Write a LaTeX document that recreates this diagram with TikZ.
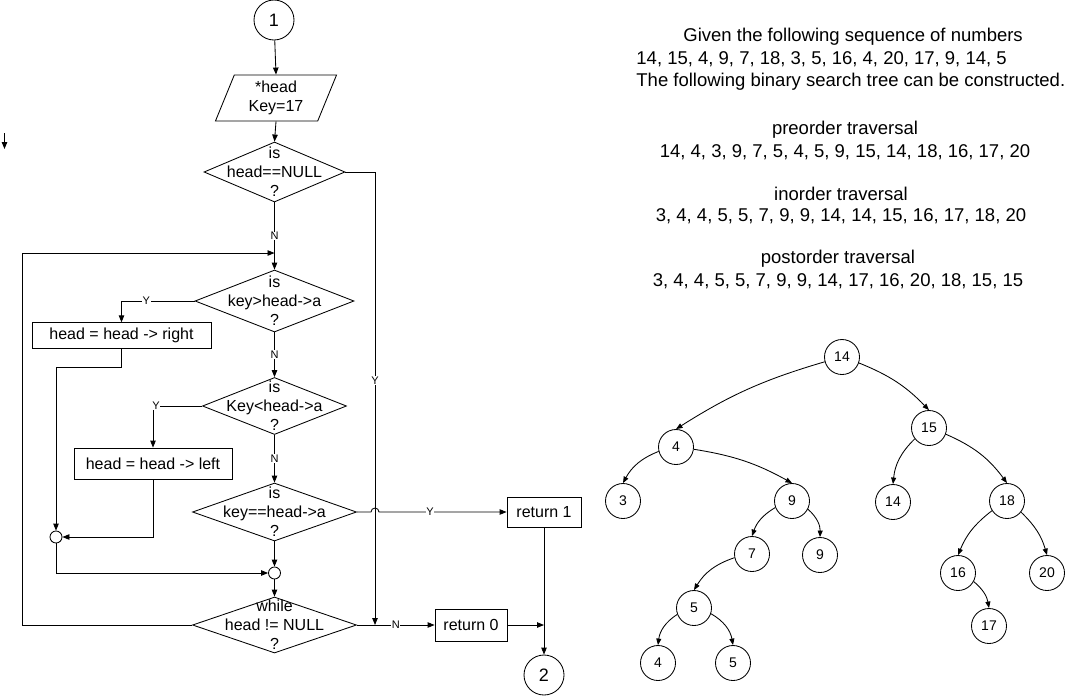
\documentclass[tikz,border=0pt]{standalone}
\usepackage{fontspec}
\setmainfont{Liberation Sans}
\usetikzlibrary{arrows.meta,shapes.geometric}

\begin{document}
\begin{tikzpicture}[x=1pt,y=1pt,
  line width=0.85pt,
  arr/.style={-{Triangle[length=7pt,width=5.5pt]}},
  flowtxt/.style={font=\fontsize{16}{19}\selectfont, align=center, inner sep=0pt},
  decision/.style={diamond, draw, inner sep=0pt},
  procbox/.style={rectangle, draw, inner sep=0pt, font=\fontsize{16}{19}\selectfont},
  connector/.style={circle, draw, minimum size=40pt, inner sep=0pt, font=\fontsize{18}{20}\selectfont},
  junction/.style={circle, draw, minimum size=12pt, inner sep=0pt},
  yn/.style={fill=white, inner sep=0.6pt, font=\fontsize{11}{12}\selectfont},
  tnode/.style={circle, draw, minimum size=35pt, inner sep=0pt, font=\fontsize{14}{15}\selectfont},
  tedge/.style={-{Triangle[length=6.5pt,width=5pt]}},
  info/.style={font=\fontsize{18.5}{21}\selectfont, inner sep=0pt},
]
\useasboundingbox (0,0) rectangle (1069,-697);

% ---------- flowchart ----------
\node[connector] (c1) at (274,-20) {1};
\node[trapezium, draw, trapezium left angle=70, trapezium right angle=110,
      trapezium stretches=true, minimum width=122pt, minimum height=46pt,
      inner sep=0pt, flowtxt] (io) at (276,-98) {*head\\Key=17};

\node[decision, minimum width=141pt, minimum height=60pt] (d1) at (274.5,-172) {};
\node[flowtxt] at (d1) {is\\head==NULL\\?};

\node[decision, minimum width=159pt, minimum height=62pt] (d2) at (274.5,-301) {};
\node[flowtxt] at (d2) {is\\key>head->a\\?};

\node[procbox, minimum width=179pt, minimum height=25.5pt] (rb) at (121.5,-335.5) {head = head -> right};

\node[decision, minimum width=144pt, minimum height=57pt] (d3) at (274.5,-406) {};
\node[flowtxt] at (d3) {is\\Key<head->a\\?};

\node[procbox, minimum width=158pt, minimum height=31pt] (lb) at (153,-463.5) {head = head -> left};

\node[decision, minimum width=164pt, minimum height=58pt] (d4) at (274.5,-512) {};
\node[flowtxt] at (d4) {is\\key==head->a\\?};

\node[junction] (jl) at (56,-537) {};
\node[junction] (jm) at (274.5,-573) {};

\node[decision, minimum width=164pt, minimum height=56pt] (dw) at (274.5,-625) {};
\node[flowtxt] at (dw) {while\\head != NULL\\?};

\node[procbox, minimum width=74pt, minimum height=30pt] (r1) at (544,-512) {return 1};
\node[procbox, minimum width=72pt, minimum height=32pt] (r0) at (471,-625) {return 0};
\node[connector] (c2) at (544,-675) {2};

\coordinate (j1) at (274.5,-253);
\coordinate (lp) at (22.5,-253);
\coordinate (j2) at (375,-625);
\coordinate (j3) at (r1.south |- r0.east);

\draw[arr] (c1) -- (io.north);
\draw[arr] (io.south) -- (d1.north);
\draw[arr] (d1.south) -- node[yn,pos=0.5]{N} (d2.north);
\draw[arr] (d1.east) -| node[yn,pos=0.73]{Y} (j2);
\draw[arr] (dw.west) -| (lp) -- (j1);

\draw[arr] (d2.west) -| node[yn,pos=0.33]{Y} (rb.north);
\draw[arr] (d2.south) -- node[yn,pos=0.5]{N} (d3.north);
\draw[arr] (rb.south) -- ++(0,-18.5) -| (jl.north);

\draw[arr] (d3.west) -| node[yn,pos=0.47]{Y} (lb.north);
\draw[arr] (d3.south) -- node[yn,pos=0.5]{N} (d4.north);
\draw[arr] (lb.south) |- (jl.east);

\draw[arr] (d4.east) -- ([xshift=-4pt]j2 |- d4.east)
  arc[start angle=180, end angle=0, radius=4pt]
  -- node[yn,pos=0.4]{Y} (r1.west);
\draw[arr] (d4.south) -- (jm.north);
\draw[arr] (jl.south) |- (jm.west);
\draw[arr] (jm.south) -- (dw.north);

\draw[arr] (dw.east) -- node[yn,pos=0.5]{N} (r0.west);
\draw[arr] (r0.east) -- (j3);
\draw[arr] (r1.south) -- (c2.north);

% small loose arrow on the left margin
\coordinate (s0) at (4.5,-133);
\coordinate (s1) at (4.5,-149);
\draw[arr] (s0) -- (s1);

% ---------- description ----------
\node[info, anchor=west] (g1) at (683,-37) {Given the following sequence of numbers};
\node[info, anchor=west] (g2) at (636,-59) {14, 15, 4, 9, 7, 18, 3, 5, 16, 4, 20, 17, 9, 14, 5};
\node[info, anchor=west] (g3) at (636,-82) {The following binary search tree can be constructed.};
\node[info] (p1) at (845,-130) {preorder traversal};
\node[info] (p2) at (845,-152) {14, 4, 3, 9, 7, 5, 4, 5, 9, 15, 14, 18, 16, 17, 20};
\node[info] (i1) at (841,-194) {inorder traversal};
\node[info] (i2) at (841,-216) {3, 4, 4, 5, 5, 7, 9, 9, 14, 14, 15, 16, 17, 18, 20};
\node[info] (q1) at (838,-259) {postorder traversal};
\node[info] (q2) at (838,-281) {3, 4, 4, 5, 5, 7, 9, 9, 14, 17, 16, 20, 18, 15, 15};

% ---------- binary search tree ----------
\node[tnode] (t14) at (842,-357) {14};
\node[tnode] (t15) at (929,-428) {15};
\node[tnode] (t4) at (676,-447) {4};
\node[tnode] (t3) at (623,-501) {3};
\node[tnode] (t9) at (792,-501) {9};
\node[tnode] (t14b) at (893,-502) {14};
\node[tnode] (t18) at (1007,-501) {18};
\node[tnode] (t7) at (752,-554) {7};
\node[tnode] (t9b) at (820,-555) {9};
\node[tnode] (t16) at (958,-573) {16};
\node[tnode] (t20) at (1047,-573) {20};
\node[tnode] (t5) at (694,-608) {5};
\node[tnode] (t17) at (989,-626) {17};
\node[tnode] (t4b) at (658,-663) {4};
\node[tnode] (t5b) at (733,-663) {5};

\draw[tedge] (t14) to[bend right=8] (t4.north);
\draw[tedge] (t14) to[bend left=12] (t15.north);
\draw[tedge] (t4) to[bend right=20] (t3.north);
\draw[tedge] (t4) to[bend left=10] (t9.north);
\draw[tedge] (t15) to[bend right=20] (t14b.north);
\draw[tedge] (t15) to[bend left=15] (t18.north);
\draw[tedge] (t9) to[bend right=20] (t7.north);
\draw[tedge] (t9) to[bend left=25] (t9b.north);
\draw[tedge] (t18) to[bend right=15] (t16.north);
\draw[tedge] (t18) to[bend left=15] (t20.north);
\draw[tedge] (t7) to[bend right=20] (t5.north);
\draw[tedge] (t16) to[bend left=20] (t17.north);
\draw[tedge] (t5) to[bend right=25] (t4b.north);
\draw[tedge] (t5) to[bend left=25] (t5b.north);
\end{tikzpicture}
\end{document}
